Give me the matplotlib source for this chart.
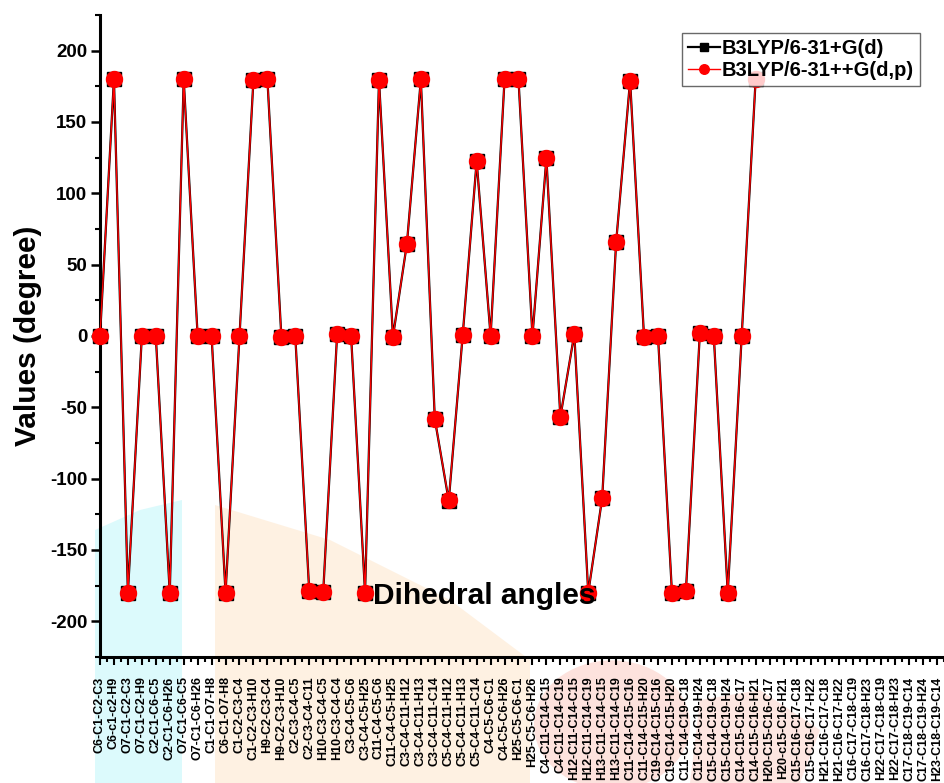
import matplotlib
matplotlib.use('Agg')
import matplotlib.pyplot as plt
from matplotlib.patches import Polygon, Circle
from matplotlib.ticker import MultipleLocator, FixedLocator

# ---------------- data ----------------
dihedral_labels = [
    "C6-C1-C2-C3", "C6-c1-c2-H9", "O7-C1-C2-C3", "O7-C1-C2-H9", "C2-C1-C6-C5",
    "C2-C1-C6-H26", "O7-C1-C6-C5", "O7-C1-C6-H26", "C1-C1-O7-H8", "C6-C1-O7-H8",
    "C1-C2-C3-C4", "C1-C2-C3-H10", "H9-C2-C3-C4", "H9-C2-C3-H10", "C2-C3-C4-C5",
    "C2-C3-C4-C11", "H10-C3-C4-C5", "H10-C3-C4-C4", "C3-C4-C5-C6", "C3-C4-C5-H25",
    "C11-C4-C5-C6", "C11-C4-C5-H25", "C3-C4-C11-H12", "C3-C4-C11-H13", "C3-C4-C11-C14",
    "C5-C4-C11-H12", "C5-C4-C11-H13", "C5-C4-C11-C14", "C4-C5-C6-C1", "C4-C5-C6-H26",
    "H25-C5-C6-C1", "H25-C5-C6-H26", "C4-C11-C14-C15", "C4-C11-C14-C19", "H12-C11-C14-C15",
    "H12-C11-C14-C19", "H13-C11-C14-C15", "H13-C11-C14-C19", "C11-C14-C15-C16", "C11-C14-C15-H20",
    "C19-C14-C15-C16", "C19-C14-C15-H20", "C11-C14-C19-C18", "C11-C14-C19-H24", "C15-C14-C19-C18",
    "C15-C14-C19-H24", "C14-C15-C16-C17", "C14-C15-C16-H21", "H20-C15-C16-C17", "H20-c15-C16-H21",
    "C15-C16-C17-C18", "C15-C16-C17-H22", "H21-C16-C17-C18", "H21-C16-C17-H22", "C16-C17-C18-C19",
    "C16-C17-C18-H23", "H22-C17-C18-C19", "H22-C17-C18-H23", "C17-C18-C19-C14", "C17-C18-C19-H24",
    "H23-C18-C19-C14",
]

b3lyp_631g_d = [
    0.0, 180.0, -180.0, 0.0, 0.0, -180.0, 180.0, 0.0, 0.0, -180.0,
    0.0, 179.6, 180.0, -0.5, -0.3, -179.0, -179.6, 1.5, 0.0, -180.0,
    179.5, -0.5, 64.6, 179.8, -58.2, -115.5, 0.6, 122.5, 0.0, 180.0,
    179.8, 0.0, 124.5, -56.8, 1.4, -180.0, -113.5, 65.8, 179.0, -1.0,
    0.0, -180.0, -179.0, 2.0, 0.0, -180.0, 0.0, 180.0,
]

b3lyp_631ppg_dp = [
    0.0, 180.0, -180.0, 0.0, 0.0, -180.0, 180.0, 0.0, 0.0, -180.0,
    0.0, 179.6, 180.0, -0.5, -0.3, -179.0, -179.6, 1.5, 0.0, -180.0,
    179.5, -0.5, 64.6, 179.8, -58.2, -115.0, 0.6, 122.5, 0.0, 180.0,
    179.8, 0.0, 124.5, -56.8, 1.4, -180.0, -113.5, 65.8, 179.0, -1.0,
    0.0, -180.0, -179.0, 2.0, 0.0, -180.0, 0.0, 180.0,
]

series_names = ["B3LYP/6-31+G(d)", "B3LYP/6-31++G(d,p)"]

# ---------------- figure ----------------
plt.rcParams['font.family'] = ['Liberation Sans', 'DejaVu Sans']
plt.rcParams['font.weight'] = 'bold'
plt.rcParams['axes.unicode_minus'] = False

W, H = 945, 783
fig = plt.figure(figsize=(W / 100, H / 100), dpi=100)


def fp(x, y):
    return (x / W, 1 - y / H)


# faint background watermark shapes (drawn behind the axes)
bg = [
    Polygon([fp(95, 530), fp(140, 510), fp(182, 500), fp(182, 783), fp(95, 783)],
            closed=True, facecolor='#dcfafc'),
    Polygon([fp(215, 505), fp(330, 540), fp(450, 600), fp(530, 660), fp(530, 783), fp(215, 783)],
            closed=True, facecolor='#fef1e2'),
    Circle(fp(612, 725), 78 / W, facecolor='#fde2dd'),
    Polygon([fp(700, 700), fp(760, 690), fp(820, 730), fp(800, 783), fp(690, 783)],
            closed=True, facecolor='#fde6e1'),
]
for p in bg:
    p.set_transform(fig.transFigure)
    p.set_edgecolor('none')
    p.set_zorder(-5)
    fig.patches.append(p)

ax = fig.add_axes([100 / W, (H - 657) / H, 845 / W, 642 / H])
ax.set_zorder(1)
ax.patch.set_alpha(0)

x1 = list(range(len(b3lyp_631g_d)))
x2 = list(range(len(b3lyp_631ppg_dp)))
ax.plot(x1, b3lyp_631g_d, color='black', lw=1.6, marker='s', ms=10,
        mfc='black', mec='black', label=series_names[0], zorder=3, clip_on=False)
ax.plot(x2, b3lyp_631ppg_dp, color='red', lw=1.0, marker='o', ms=11.5,
        mfc='red', mec='red', label=series_names[1], zorder=4, clip_on=False)

ax.set_xlim(0, (945 - 100) / 13.95)
ax.set_ylim(-225, 225)

ax.xaxis.set_major_locator(FixedLocator(list(range(len(dihedral_labels)))))
ax.xaxis.set_minor_locator(FixedLocator([i + 0.5 for i in range(len(dihedral_labels))]))
ax.set_xticklabels(dihedral_labels, rotation=90, fontsize=9, fontweight='bold')

ax.yaxis.set_major_locator(MultipleLocator(50))
ax.yaxis.set_minor_locator(MultipleLocator(25))
ax.tick_params(axis='y', which='major', length=6.5, width=1.8, pad=2.5, labelsize=13.5)
ax.tick_params(axis='y', which='minor', length=3.5, width=1.5)
ax.tick_params(axis='x', which='major', length=6, width=1.5, pad=8)
ax.tick_params(axis='x', which='minor', length=3.5, width=1.5)
for lab in ax.get_yticklabels():
    lab.set_fontweight('bold')

for s in ['top', 'right']:
    ax.spines[s].set_visible(False)
for s in ['left', 'bottom']:
    ax.spines[s].set_linewidth(2.2)

ax.set_ylabel("Values (degree)", fontsize=21.5, fontweight='bold', labelpad=6)
ax.text(19.55, -187.5, "Dihedral angles", fontsize=21.5, fontweight='bold',
        ha='left', va='baseline', zorder=5)

leg = ax.legend(loc='upper right', bbox_to_anchor=fp(920, 33), bbox_transform=fig.transFigure,
                borderaxespad=0, frameon=True, fancybox=False,
                handlelength=1.6, handletextpad=0.1, markerscale=0.6,
                borderpad=0.3, labelspacing=0.15, prop={'weight': 'bold', 'size': 14.5})
leg.get_frame().set_edgecolor('#444444')
leg.get_frame().set_linewidth(1.0)
leg.set_zorder(10)

fig.savefig('out.png', dpi=100)
